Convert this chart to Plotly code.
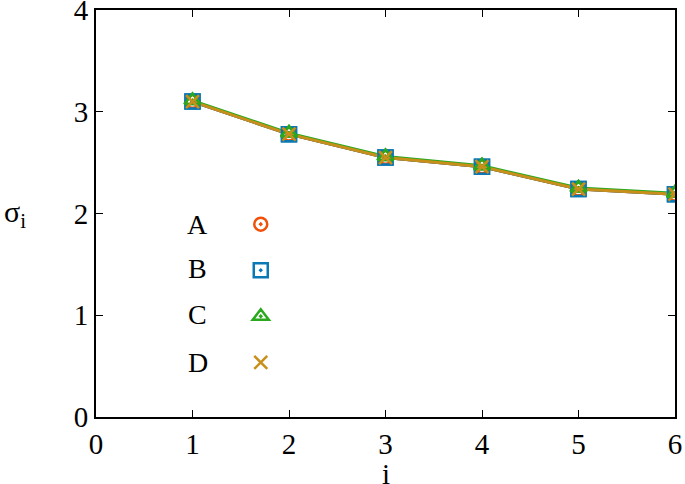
import plotly.graph_objects as go

i_vals = [1, 2, 3, 4, 5, 6]
series_names = ["A", "B", "C", "D"]
sigma_A = [3.10, 2.78, 2.55, 2.46, 2.24, 2.19]
sigma_B = [3.10, 2.78, 2.55, 2.46, 2.24, 2.19]
sigma_C = [3.11, 2.79, 2.56, 2.47, 2.25, 2.20]
sigma_D = [3.10, 2.78, 2.55, 2.46, 2.24, 2.19]
x_ticks = [0, 1, 2, 3, 4, 5, 6]
y_ticks = [0, 1, 2, 3, 4]

colors = ["#f0500a", "#0a78b4", "#2aa81e", "#c8901a"]
symbols = ["circle-open-dot", "square-open-dot", "triangle-up-open-dot", "x-thin-open"]
sizes = [13, 14, 14, 13]
values = [sigma_A, sigma_B, sigma_C, sigma_D]

FONT = "Times New Roman, Liberation Serif, Tinos, Times, serif"
fig = go.Figure()

for k, (name, vals) in enumerate(zip(series_names, values)):
    fig.add_trace(go.Scatter(
        x=i_vals, y=vals, mode="lines+markers", showlegend=False,
        line=dict(color=colors[k], width=3),
        marker=dict(symbol=symbols[k], size=sizes[k], color=colors[k],
                    line=dict(color=colors[k], width=2.5)),
        legendgroup=name, hoverinfo="skip",
    ))
for k, (name, vals) in enumerate(zip(series_names, values)):
    fig.add_trace(go.Scatter(
        x=i_vals, y=vals, mode="markers", name=" ", showlegend=True,
        marker=dict(symbol=symbols[k], size=sizes[k], color=colors[k],
                    line=dict(color=colors[k], width=2.5)),
        legendgroup=name, hoverinfo="skip",
    ))

ann_y = [0.474, 0.364, 0.251, 0.135]
for k, name in enumerate(series_names):
    fig.add_annotation(x=0.176, y=ann_y[k], xref="paper", yref="paper",
                       text=name, showarrow=False, xanchor="center", yanchor="middle",
                       font=dict(family=FONT, size=28, color="black"))

fig.add_annotation(x=-0.14, y=2, xref="paper", yref="y", text="σ<sub>i</sub>",
                   showarrow=False, xanchor="center", yanchor="middle",
                   font=dict(family=FONT, size=30, color="black"))
fig.add_annotation(x=3, y=-0.14, xref="x", yref="paper", text="i",
                   showarrow=False, xanchor="center", yanchor="middle",
                   font=dict(family=FONT, size=29, color="black"))

axis_common = dict(showgrid=False, zeroline=False, showline=True, linecolor="black",
                   linewidth=2, mirror="ticks", ticks="inside", ticklen=7,
                   tickwidth=1, tickcolor="black", automargin=False,
                   ticklabeloverflow="allow",
                   tickfont=dict(family=FONT, size=29, color="black"))
fig.update_xaxes(range=[0, 6], tickvals=x_ticks, **axis_common)
fig.update_yaxes(range=[0, 4], tickvals=y_ticks, **axis_common)

fig.update_layout(
    width=685, height=484,
    margin=dict(l=96, r=10, t=10, b=67, autoexpand=False),
    plot_bgcolor="white", paper_bgcolor="white",
    showlegend=True,
    legend=dict(x=0.250, y=0.525, xanchor="left", yanchor="top",
                bgcolor="rgba(0,0,0,0)", traceorder="grouped",
                tracegroupgap=14.5, font=dict(family=FONT, size=22),
                itemsizing="trace"),
)

fig.write_html("out.html", config={"displayModeBar": False},
               post_script="document.body.style.margin='0';document.body.style.overflow='hidden';")
